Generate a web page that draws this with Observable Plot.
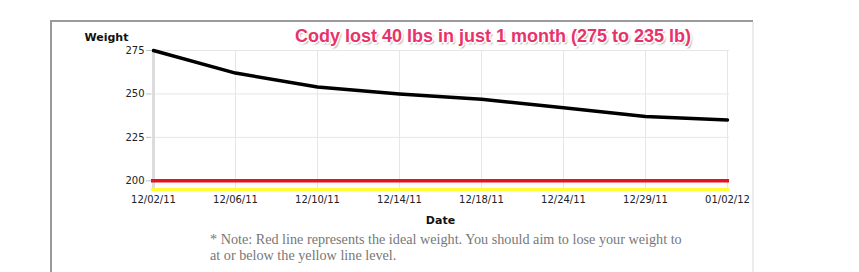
<!DOCTYPE html>
<html>
<head>
<meta charset="utf-8">
<script src="https://cdn.jsdelivr.net/npm/d3@7"></script>
<script src="https://cdn.jsdelivr.net/npm/@observablehq/plot@0.6"></script>
<style>
  html, body { margin: 0; padding: 0; background: #fff; width: 859px; height: 272px; overflow: hidden; }
  #wrap { position: relative; width: 859px; height: 272px; }
  .frameL { position: absolute; left: 50px; top: 20px; width: 2px; height: 252px; background: #9a9a9a; }
  .frameT { position: absolute; left: 50px; top: 20px; width: 703px; height: 2px; background: #9a9a9a; }
  .frameR { position: absolute; left: 752px; top: 22px; width: 2px; height: 250px; background: #ececec; }
  #chart { position: absolute; left: 0; top: 0; }
  #title { position: absolute; left: 295px; top: 26px; font-family: "Liberation Sans", Arial, sans-serif; font-weight: bold; font-size: 18px; color: #e8336a; white-space: nowrap; letter-spacing: 0px;
    text-shadow: -1.5px 0 #fff, 1.5px 0 #fff, 0 -1.5px #fff, 0 1.5px #fff, -1px -1px #fff, 1px 1px #fff, -1px 1px #fff, 1px -1px #fff, 1.5px 2px 2px rgba(0,0,0,0.45); }
  #note { position: absolute; left: 210px; top: 231px; font-family: "Liberation Serif", "Times New Roman", serif; font-size: 14.2px; line-height: 16px; color: #777; white-space: nowrap; }
</style>
</head>
<body>
<div id="wrap">
  <div class="frameL"></div>
  <div class="frameT"></div>
  <div class="frameR"></div>
  <div id="chart"></div>
  <div id="title">Cody lost 40 lbs in just 1 month (275 to 235 lb)</div>
  <div id="note">* Note: Red line represents the ideal weight. You should aim to lose your weight to<br>at or below the yellow line level.</div>
</div>
<script>
const dates = ["12/02/11","12/06/11","12/10/11","12/14/11","12/18/11","12/24/11","12/29/11","01/02/12"];
const weights = [275, 262, 254, 250, 247, 242, 237, 235];
const yTicks = [200, 225, 250, 275];
const idealWeight = 200;
const targetWeight = 195;
const yLabel = "Weight";
const xLabel = "Date";

const data = dates.map((d, i) => ({date: d, weight: weights[i]}));

const chart = Plot.plot({
  width: 859,
  height: 272,
  marginLeft: 151,
  marginRight: 130,
  marginTop: 50,
  marginBottom: 83,
  style: {fontFamily: "DejaVu Sans, Verdana, sans-serif", fontSize: "10px", color: "#222", background: "transparent", overflow: "visible"},
  x: {type: "point", domain: dates, padding: 0},
  y: {domain: [targetWeight, 275]},
  marks: [
    Plot.gridX(dates, {stroke: "#e6e6e6", strokeOpacity: 1}),
    Plot.gridY(yTicks, {stroke: "#e6e6e6", strokeOpacity: 1}),
    Plot.ruleX([dates[0]], {stroke: "#dcdcdc", strokeWidth: 3}),
    Plot.axisY(yTicks, {tickSize: 5, tickPadding: 2, label: null, stroke: "#b8c4c8"}),
    Plot.axisX(dates, {tickSize: 0, tickPadding: 6, label: null}),
    Plot.ruleY([targetWeight], {stroke: "#ffff33", strokeWidth: 3}),
    Plot.ruleY([idealWeight], {stroke: "#e3141b", strokeWidth: 3.5}),
    Plot.line(data, {x: "date", y: "weight", stroke: "#000", strokeWidth: 3.5, strokeLinejoin: "round"}),
    Plot.text([yLabel], {text: d => d, frameAnchor: "top-left", dx: -67, dy: -13, textAnchor: "start", lineAnchor: "middle", fontWeight: "bold", fontSize: 11, fill: "#111"}),
    Plot.text([xLabel], {text: d => d, frameAnchor: "bottom", dy: 31, lineAnchor: "middle", fontWeight: "bold", fontSize: 11, fill: "#111"})
  ]
});
document.getElementById("chart").appendChild(chart);
</script>
</body>
</html>
